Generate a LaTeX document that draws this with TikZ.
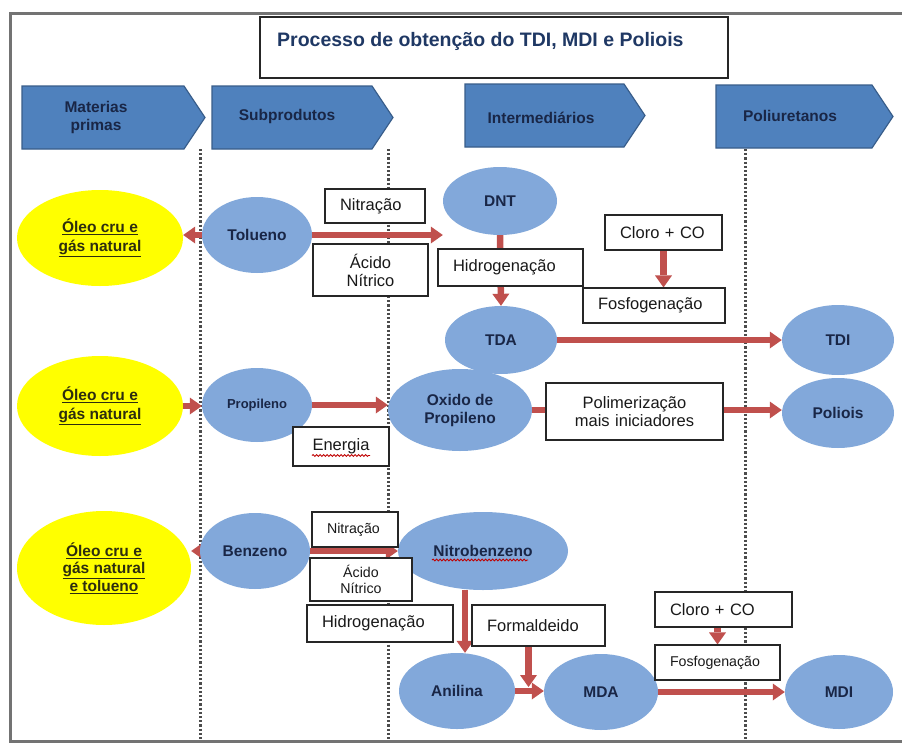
\documentclass[tikz,border=0pt]{standalone}
\usepackage{fontspec}
\setmainfont{Liberation Sans}
\usetikzlibrary{shapes.geometric,arrows.meta,decorations.pathmorphing,calc}
\definecolor{ellblue}{RGB}{130,168,218}
\definecolor{chevblue}{RGB}{79,129,189}
\definecolor{chevedge}{RGB}{56,93,138}
\definecolor{arrred}{RGB}{192,80,77}
\definecolor{navytxt}{RGB}{25,38,70}
\definecolor{titlecol}{RGB}{31,56,100}
\definecolor{yel}{RGB}{255,255,0}
\definecolor{olivtxt}{RGB}{45,45,15}
\pgfdeclarelayer{bg}
\pgfdeclarelayer{mid}
\pgfsetlayers{bg,mid,main}
\begin{document}
\begin{tikzpicture}[x=1pt,y=-1pt,
  ell/.style={ellipse, fill=ellblue, draw=none, inner sep=0pt, text=navytxt,
    font=\fontsize{15.5}{18}\selectfont\bfseries, align=center},
  yell/.style={ellipse, fill=yel, draw=none, inner sep=0pt, text=olivtxt,
    font=\fontsize{15.5}{18.5}\selectfont\bfseries, align=center},
  box/.style={draw=black!85, fill=white, line width=1.1pt, inner xsep=15pt,
    inner ysep=0pt, text=black!90, font=\fontsize{16.5}{18}\selectfont},
  sbox/.style={box, font=\fontsize{14.2}{16.5}\selectfont},
  arr/.style={draw=arrred, line width=6.5pt,
    -{Triangle[length=12pt,width=17pt,line width=0pt]}},
  dots/.style={draw=black!70, line width=3pt, dash pattern=on 2.2pt off 2pt},
  chev/.style={fill=chevblue, draw=chevedge, line width=1.2pt},
  chevtxt/.style={text=navytxt, font=\fontsize{15.5}{18}\selectfont\bfseries, align=center, inner sep=0pt},
  squig/.style={draw=red!75!black, line width=0.9pt, decorate,
    decoration={snake, amplitude=0.9pt, segment length=3.5pt}}
]
\useasboundingbox (0,0) rectangle (902,744);
\begin{pgfonlayer}{bg}
\fill[white] (0,0) rectangle (902,744);
\end{pgfonlayer}

% outer frame
\draw[black!55, line width=3pt] (902,13) -- (10.5,13) -- (10.5,741) -- (902,741);

% title
\node[draw=black!85, line width=1.2pt, fill=white, minimum width=468pt, minimum height=61pt, inner sep=0pt] (tbox) at (494,47.5) {};
\node[anchor=west, inner sep=0pt, text=titlecol, font=\fontsize{19.5}{22}\selectfont\bfseries] (ttl) at (277,41) {Processo de obtenção do TDI, MDI e Poliois};

% header chevrons
\path[chev] (22,86) -- (184,86) -- (205,117.5) -- (184,149) -- (22,149) -- cycle;
\path[chev] (212,86) -- (372,86) -- (393,117.5) -- (372,149) -- (212,149) -- cycle;
\path[chev] (465,84) -- (624,84) -- (645,115.5) -- (624,147) -- (465,147) -- cycle;
\path[chev] (716,85) -- (872,85) -- (893,116.5) -- (872,148) -- (716,148) -- cycle;
\node[chevtxt] (h1) at (96,117) {Materias\\primas};
\node[chevtxt] (h2) at (287,116) {Subprodutos};
\node[chevtxt] (h3) at (541,118) {Intermediários};
\node[chevtxt] (h4) at (790,116) {Poliuretanos};

% dotted column separators
\begin{pgfonlayer}{bg}
\draw[dots] (200,149) -- (200,740);
\draw[dots] (388,149) -- (388,740);
\draw[dots] (745,149) -- (745,740);
\end{pgfonlayer}

% row 1
\node[yell, minimum width=166pt, minimum height=96pt] (y1) at (100,238) {\underline{Óleo cru e}\\\underline{gás natural}};
\node[ell, minimum width=110pt, minimum height=76pt] (tol) at (257,235) {Tolueno};
\node[ell, minimum width=114pt, minimum height=68pt] (dnt) at (500,201) {DNT};
\node[ell, minimum width=112pt, minimum height=68pt] (tda) at (501,340) {TDA};
\node[ell, minimum width=112pt, minimum height=70pt] (tdi) at (838,340) {TDI};

\node[box, text width=70pt, minimum height=34pt, align=left] (nit1) at (375,206) {Nitração};
\node[box, inner xsep=0pt, text width=115pt, minimum height=52pt, align=center] (acid1) at (370.5,270) {Ácido\\Nítrico};
\node[box, text width=115pt, minimum height=37pt, align=left] (hid1) at (510.5,267.5) {Hidrogenação};
\node[box, text width=87pt, minimum height=35pt, align=left] (cl1) at (663.5,232.5) {Cloro + CO};
\node[box, text width=112pt, minimum height=35pt, align=left] (fos1) at (654,305.5) {Fosfogenação};

% row 2
\node[yell, minimum width=166pt, minimum height=100pt] (y2) at (100,406) {\underline{Óleo cru e}\\\underline{gás natural}};
\node[ell, minimum width=110pt, minimum height=74pt, font=\fontsize{13}{15}\selectfont\bfseries] (prop) at (257,405) {Propileno};
\node[ell, minimum width=144pt, minimum height=82pt] (oxi) at (460,410) {Oxido de\\Propileno};
\node[ell, minimum width=112pt, minimum height=70pt] (poli) at (838,413) {Poliois};

\node[box, inner xsep=0pt, text width=177pt, minimum height=57pt, align=center] (poly) at (634.5,411.5) {Polimerização\\mais iniciadores};
\node[box, inner xsep=0pt, text width=96pt, minimum height=39pt, align=center] (ener) at (341,446.5) {Energia};

% row 3
\node[yell, minimum width=174pt, minimum height=114pt, font=\fontsize{15.5}{17.5}\selectfont\bfseries] (y3) at (104,568) {\underline{Óleo cru e}\\\underline{gás natural}\\\underline{e tolueno}};
\node[ell, minimum width=110pt, minimum height=76pt] (benz) at (255,551) {Benzeno};
\node[ell, minimum width=170pt, minimum height=78pt] (nitro) at (483,551) {Nitrobenzeno};
\node[ell, minimum width=116pt, minimum height=76pt] (anil) at (457,691) {Anilina};
\node[ell, minimum width=114pt, minimum height=76pt] (mda) at (601,692) {MDA};
\node[ell, minimum width=108pt, minimum height=74pt] (mdi) at (839,692) {MDI};

\node[sbox, text width=56pt, minimum height=35pt, align=left] (nit3) at (355,529.5) {Nitração};
\node[sbox, inner xsep=0pt, text width=102pt, minimum height=43pt, align=center] (acid3) at (361,579.5) {Ácido\\Nítrico};
\node[box, text width=116pt, minimum height=37pt, align=left] (hid3) at (380,623.5) {Hidrogenação};
\node[box, text width=103pt, minimum height=41pt, align=left] (form) at (538.5,625.5) {Formaldeido};
\node[box, text width=107pt, minimum height=35pt, align=left] (cl2) at (723.5,609.5) {Cloro + CO};
\node[sbox, text width=95pt, minimum height=35pt, align=left] (fos2) at (717.5,662.5) {Fosfogenação};

% spell-check squiggles
\path[squig] ($(ener.center)+(-29,9)$) -- ($(ener.center)+(29,9)$);
\path[squig] ($(nitro.center)+(-51,9)$) -- ($(nitro.center)+(45,9)$);

% connectors
\begin{pgfonlayer}{mid}
\draw[arr] (tol.west) -- (tol.west -| y1.east);
\draw[arr] (tol.east) -- (tol.east -| dnt.west);
\draw[arr] (dnt.south) -- (tda.north);
\draw[arr] (cl1.south) -- (cl1.south |- fos1.north);
\draw[arr] (tda.east) -- (tdi.west);

\draw[arr] (y2.east) -- (y2.east -| prop.west);
\draw[arr] (prop.east) -- (prop.east -| oxi.west);
\draw[arr] (oxi.east) -- (oxi.east -| poli.west);

\draw[arr] (benz.west) -- (benz.west -| y3.east);
\draw[arr] (benz.east) -- (benz.east -| nitro.west);
\draw[arr] ([xshift=-18pt]nitro.south) -- ([xshift=-18pt]nitro.south |- anil.north);
\draw[arr] ([xshift=-10pt]form.south) -- ([xshift=-10pt,yshift=4pt]form.south |- anil.east);
\draw[arr] (anil.east) -- (anil.east -| mda.west);
\draw[arr] (fos2.north |- cl2.south) -- (fos2.north);
\draw[arr] (mda.east) -- (mda.east -| mdi.west);
\end{pgfonlayer}
\end{tikzpicture}
\end{document}
